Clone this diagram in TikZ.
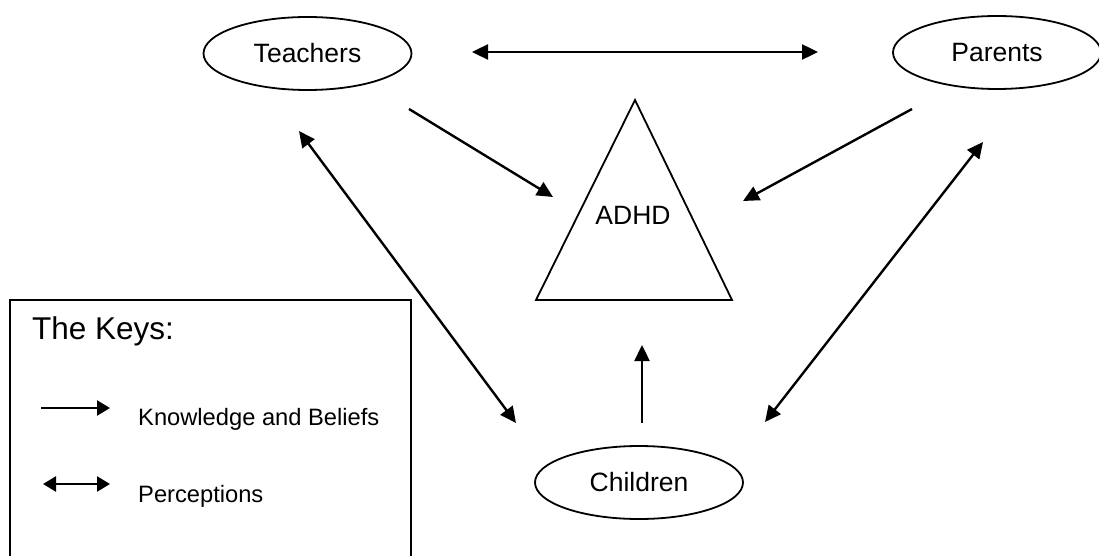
\documentclass[tikz,border=0pt]{standalone}
\usepackage{fontspec}
\setmainfont{Liberation Sans}
\usetikzlibrary{shapes.geometric,arrows.meta}
\begin{document}
\begin{tikzpicture}[x=1pt,y=-1pt,
  actor/.style={draw,ellipse,line width=1.8pt,minimum width=208pt,minimum height=73pt,inner sep=0pt,font=\fontsize{26.5}{31}\selectfont},
  link/.style={line width=2.4pt,-{Triangle[length=16pt,width=15pt]}},
  dlink/.style={line width=2.4pt,{Triangle[length=16pt,width=15pt]}-{Triangle[length=16pt,width=15pt]}},
  keytext/.style={anchor=west,inner sep=0pt,font=\fontsize{23.7}{28}\selectfont}]
\useasboundingbox (0,0) rectangle (1099,556);
\fill[white] (0,0) rectangle (1099,556);
% nodes
\node[actor] (teachers) at (307.5,53.5) {Teachers};
\node[actor] (parents) at (997,52.5) {Parents};
\node[actor] (children) at (639,482.5) {Children};
\draw[line width=1.8pt,line join=miter] (635,100) -- (732,300) -- (536,300) -- cycle;
\node[font=\fontsize{26.5}{31}\selectfont] (adhd) at (633,215) {ADHD};
% arrow end points
\coordinate (tp1) at (472,52); \coordinate (tp2) at (818,52);
\coordinate (ta1) at (409,109); \coordinate (ta2) at (553,197);
\coordinate (pa1) at (912,109); \coordinate (pa2) at (743,201);
\coordinate (tc1) at (299,131); \coordinate (tc2) at (516,423);
\coordinate (pc1) at (983,142); \coordinate (pc2) at (765,422);
\coordinate (ca1) at (642,423); \coordinate (ca2) at (642,345);
\draw[dlink] (tp1) -- (tp2);
\draw[link] (ta1) -- (ta2);
\draw[link] (pa1) -- (pa2);
\draw[dlink] (tc1) -- (tc2);
\draw[dlink] (pc1) -- (pc2);
\draw[link] (ca1) -- (ca2);
% legend
\draw[line width=1.8pt] (10,570) -- (10,300) -- (411,300) -- (411,570);
\node[anchor=west,inner sep=0pt,font=\fontsize{31.5}{36}\selectfont] (keys) at (32,331) {The Keys:};
\coordinate (k1a) at (41,408); \coordinate (k1b) at (110,408);
\coordinate (k2a) at (43,484); \coordinate (k2b) at (110,484);
\draw[line width=2.4pt,-{Triangle[length=13pt,width=15pt]}] (k1a) -- (k1b);
\draw[line width=2.4pt,{Triangle[length=13pt,width=15pt]}-{Triangle[length=13pt,width=15pt]}] (k2a) -- (k2b);
\node[keytext] (kb) at (138,419) {Knowledge and Beliefs};
\node[keytext] (pc) at (138,496) {Perceptions};
\end{tikzpicture}
\end{document}
